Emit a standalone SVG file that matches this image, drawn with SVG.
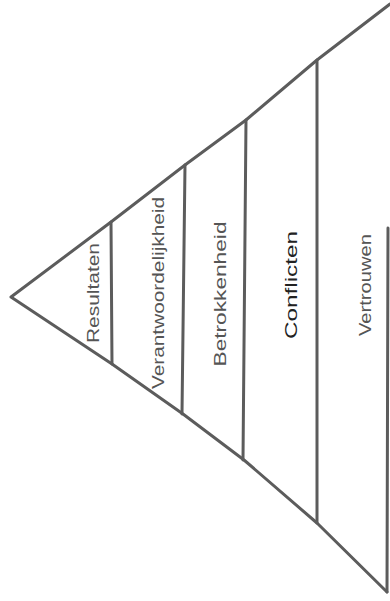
<svg xmlns="http://www.w3.org/2000/svg" width="390" height="601" viewBox="0 0 390 601">
<style>
.ln{fill:none;stroke:#5c5c5c;stroke-width:3;stroke-linecap:round;stroke-linejoin:round}
.t{font-family:"Liberation Sans Narrow","Liberation Sans",sans-serif;font-size:17px;fill:#555;text-anchor:middle}
.dk{fill:#222}
</style>
<rect width="390" height="601" fill="#fff"/>
<g id="connectors">
<path class="ln" d="M390 4 L317 60 L246 120 L185 165 L111 222 L11 297 L112 364 L183 414 L244 460 L317 523 L387 592"/>
<path class="ln" d="M111 222 L112 364"/>
<path class="ln" d="M185 165 L182 414"/>
<path class="ln" d="M246 120 L243 460"/>
<path class="ln" d="M317 60 L317 523"/>
<path class="ln" d="M388 228 L387 592"/>
</g>
<g id="resultaten"><text class="t" transform="translate(99 293) rotate(-90)" textLength="100" lengthAdjust="spacingAndGlyphs">Resultaten</text></g>
<g id="verantwoordelijkheid"><text class="t" transform="translate(164 293) rotate(-90)" textLength="192" lengthAdjust="spacingAndGlyphs">Verantwoordelijkheid</text></g>
<g id="betrokkenheid"><text class="t" transform="translate(226 294) rotate(-90)" textLength="145" lengthAdjust="spacingAndGlyphs">Betrokkenheid</text></g>
<g id="conflicten"><text class="t dk" transform="translate(297 285) rotate(-90)" textLength="108" lengthAdjust="spacingAndGlyphs">Conflicten</text></g>
<g id="vertrouwen"><text class="t" transform="translate(371 285) rotate(-90)" textLength="102" lengthAdjust="spacingAndGlyphs">Vertrouwen</text></g>
</svg>
